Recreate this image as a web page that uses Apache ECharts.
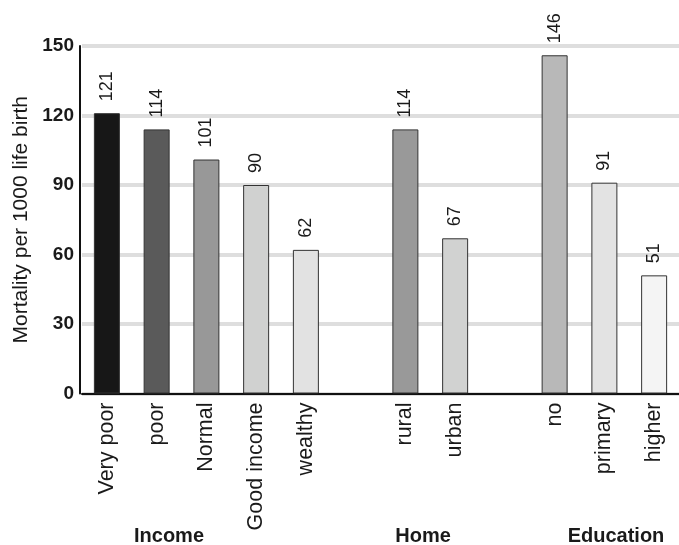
<!DOCTYPE html>
<html>
<head>
<meta charset="utf-8">
<script src="https://cdn.jsdelivr.net/npm/echarts@6/dist/echarts.min.js"></script>
<style>
html,body{margin:0;padding:0;background:#fff;}
#chart{width:679px;height:545px;}
</style>
</head>
<body>
<div id="chart"></div>
<script>
// Categories (empty strings are the gaps between groups)
var categories = ['Very poor', 'poor', 'Normal', 'Good income', 'wealthy', '', 'rural', 'urban', '', 'no', 'primary', 'higher'];
// Mortality per 1000 life birth
var mortality = [121, 114, 101, 90, 62, null, 114, 67, null, 146, 91, 51];
// Bar fill colours
var barColors = ['#171717', '#5a5a5a', '#989898', '#d0d1d0', '#e2e2e2', '#fff', '#999999', '#d1d2d1', '#fff', '#b8b8b8', '#e3e3e3', '#f4f4f4'];
// Group labels
var groupNames = ['Income', 'Home', 'Education'];
var yTicks = [0, 30, 60, 90, 120, 150];

var FONT = '"Liberation Sans", Arial, Helvetica, sans-serif';
var chart = echarts.init(document.getElementById('chart'), null, {renderer: 'canvas'});

var groupPos = [[169, 536], [423, 536], [616, 536]];

chart.setOption({
  animation: false,
  backgroundColor: '#ffffff',
  grid: {left: 82, top: 46, width: 600, height: 347.5, containLabel: false},
  xAxis: {
    type: 'category',
    data: categories,
    axisLine: {show: true, lineStyle: {color: '#111', width: 2}},
    axisTick: {show: false},
    axisLabel: {
      rotate: 90, margin: 9, interval: 0,
      fontFamily: FONT, fontSize: 21.5, color: '#1a1a1a'
    },
    splitLine: {show: false}
  },
  yAxis: {
    type: 'value',
    offset: 2,
    min: yTicks[0], max: yTicks[yTicks.length - 1], interval: 30,
    name: 'Mortality per 1000 life birth',
    nameLocation: 'middle',
    nameRotate: 90,
    nameGap: 44,
    nameTextStyle: {fontFamily: FONT, fontSize: 21, color: '#1a1a1a'},
    axisLine: {show: true, lineStyle: {color: '#111', width: 2}},
    axisTick: {show: false},
    axisLabel: {
      margin: 6, fontFamily: FONT, fontSize: 19, fontWeight: 'bold', color: '#1a1a1a'
    },
    splitLine: {show: true, lineStyle: {color: '#dedede', width: 4}}
  },
  series: [{
    type: 'bar',
    data: mortality.map(function (v, i) {
      return {value: v, itemStyle: {color: barColors[i]}};
    }),
    barWidth: 26,
    itemStyle: {borderColor: '#333', borderWidth: 1},
    label: {
      show: true,
      position: 'top',
      distance: 12,
      rotate: 90,
      align: 'left',
      verticalAlign: 'middle',
      fontFamily: FONT,
      fontSize: 18,
      color: '#1a1a1a',
      formatter: function (p) { return p.value == null ? '' : String(p.value); }
    }
  }],
  graphic: groupNames.map(function (name, i) {
    return {
      type: 'text',
      x: groupPos[i][0], y: groupPos[i][1],
      style: {
        text: name,
        fontFamily: FONT, fontSize: 20, fontWeight: 'bold',
        fill: '#1a1a1a', align: 'center', verticalAlign: 'middle'
      }
    };
  })
});
</script>
</body>
</html>
